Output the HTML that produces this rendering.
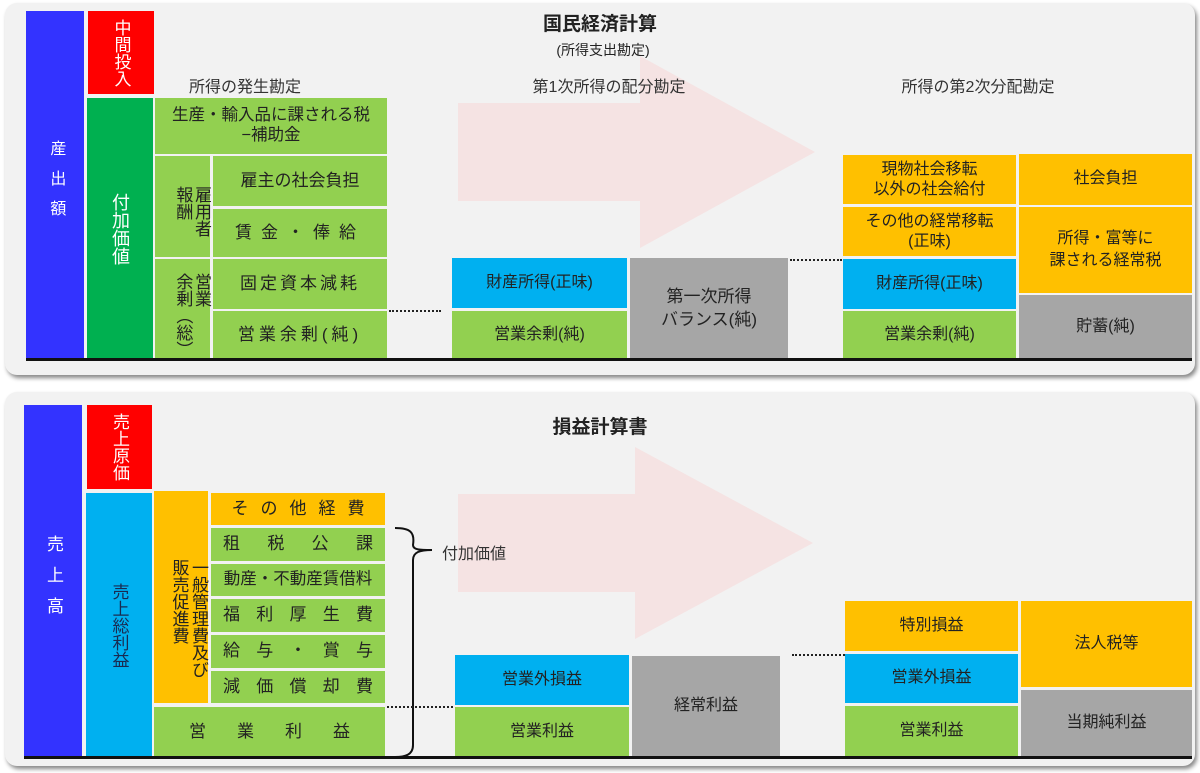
<!DOCTYPE html>
<html><head><meta charset="utf-8"><style>
*{margin:0;padding:0;box-sizing:border-box}
body{width:1200px;height:773px;background:#fff;position:relative;overflow:hidden;font-family:"Liberation Sans","Noto Sans CJK JP",sans-serif;color:#222}
.p{position:absolute;background:#f2f2f2;border-radius:12px;box-shadow:2px 3px 4px #888}
.b{position:absolute;display:flex;align-items:center;justify-content:center;text-align:center;font-size:16px;line-height:1.3}
.v{writing-mode:vertical-rl;text-orientation:upright}
.g{background:#92d050}.dg{background:#00b050;color:#fff}.bl{background:#3333ff;color:#fff}.r{background:#ff0000;color:#fff}
.c{background:#00b0f0}.o{background:#ffc000}.gr{background:#a6a6a6}
.t{position:absolute;white-space:nowrap;transform:translateX(-50%)}
.dot{position:absolute;border-top:2px dotted #222;height:0}
.base{position:absolute;height:3px;background:#111}
</style></head><body>
<div class="p" style="left:5px;top:3px;width:1190px;height:372px"></div>
<div class="p" style="left:5px;top:392px;width:1190px;height:374px"></div>
<svg style="position:absolute;left:0;top:0" width="1200" height="773">
<polygon points="458,103 640,103 640,56 815,152 640,248 640,201 458,201" fill="#f5e3e3"/>
<polygon points="458,494 635,494 635,447 813,543 635,639 635,592 458,592" fill="#f5e3e3"/>
<path d="M395,528 C410,528 415,532 413,545 C413,550 420,550 432,550 M432,550 C420,550 413,552 413,560 L413,745 C413,755 405,757 395,757" fill="none" stroke="#111" stroke-width="2"/>
</svg>
<div class="t" style="left:600px;top:9px;font-size:19px;font-weight:bold">国民経済計算</div>
<div class="t" style="left:603px;top:40px;font-size:14px">(所得支出勘定)</div>
<div class="t" style="left:245px;top:73px;font-size:16px;color:#333">所得の発生勘定</div>
<div class="t" style="left:609px;top:73px;font-size:16px;color:#333">第1次所得の配分勘定</div>
<div class="t" style="left:978px;top:73px;font-size:16px;color:#333">所得の第2次分配勘定</div>

<div class="b bl v" style="left:26px;top:11px;width:58px;height:348px;letter-spacing:14px;font-size:16px">産出額</div>
<div class="b r v" style="left:88px;top:11px;width:66px;height:83px;font-size:17px;line-height:1">中間投入</div>
<div class="b dg v" style="left:87px;top:98px;width:66px;height:261px;font-size:18px;line-height:1">付加価値</div>
<div class="b g" style="left:155px;top:98px;width:232px;height:56px;font-size:16.5px;line-height:1.2">生産・輸入品に課される税<br>−補助金</div>
<div class="b g v" style="left:155px;top:156px;width:55px;height:101px;font-size:17px;line-height:1.1;text-align:start;align-items:flex-start;padding-top:10px">雇用者<br>報酬</div>
<div class="b g" style="left:213px;top:156px;width:174px;height:50px;font-size:17px">雇主の社会負担</div>
<div class="b g" style="left:213px;top:209px;width:174px;height:48px;font-size:17px;letter-spacing:9px">賃金・俸給</div>
<div class="b g v" style="left:155px;top:259px;width:55px;height:100px;font-size:17px;line-height:1.1;text-align:start;align-items:flex-start;padding-top:12px">営業<br>余剰（総）</div>
<div class="b g" style="left:213px;top:259px;width:174px;height:50px;font-size:17px;letter-spacing:3px">固定資本減耗</div>
<div class="b g" style="left:213px;top:311px;width:174px;height:48px;font-size:17px;letter-spacing:4px">営業余剰(純)</div>
<div class="dot" style="left:389px;top:310px;width:52px"></div>
<div class="b c" style="left:452px;top:258px;width:175px;height:50px">財産所得(正味)</div>
<div class="b g" style="left:452px;top:311px;width:175px;height:48px">営業余剰(純)</div>
<div class="b gr" style="left:630px;top:258px;width:158px;height:101px;line-height:1.35;font-size:17px">第一次所得<br>バランス(純)</div>
<div class="dot" style="left:790px;top:259px;width:52px"></div>
<div class="b o" style="left:843px;top:155px;width:173px;height:49px;line-height:1.25">現物社会移転<br>以外の社会給付</div>
<div class="b o" style="left:843px;top:207px;width:173px;height:49px;line-height:1.25">その他の経常移転<br>(正味)</div>
<div class="b c" style="left:843px;top:259px;width:173px;height:50px">財産所得(正味)</div>
<div class="b g" style="left:843px;top:311px;width:173px;height:48px">営業余剰(純)</div>
<div class="b o" style="left:1019px;top:154px;width:173px;height:51px">社会負担</div>
<div class="b o" style="left:1019px;top:207px;width:173px;height:86px;line-height:1.35">所得・富等に<br>課される経常税</div>
<div class="b gr" style="left:1019px;top:295px;width:173px;height:64px">貯蓄(純)</div>
<div class="base" style="left:26px;top:358px;width:1166px"></div>

<div class="t" style="left:600px;top:412px;font-size:19px;font-weight:bold">損益計算書</div>
<div class="b bl v" style="left:24px;top:405px;width:58px;height:352px;letter-spacing:14px;font-size:17px">売上高</div>
<div class="b r v" style="left:87px;top:405px;width:65px;height:84px;font-size:17px;line-height:1">売上原価</div>
<div class="b c v" style="left:86px;top:493px;width:66px;height:264px;font-size:17px;line-height:1;color:#1a2a50">売上総利益</div>
<div class="b o v" style="left:154px;top:491px;width:54px;height:212px;font-size:17px;line-height:1.15;text-align:start;align-items:flex-start;padding-top:42px">一般管理費及び<br>販売促進費</div>
<div class="b o" style="left:211px;top:493px;width:174px;height:32px;font-size:17px;letter-spacing:12px;padding-left:12px">その他経費</div>
<div class="b g" style="left:211px;top:528px;width:174px;height:33px;font-size:17px;justify-content:space-between;padding:0 12px"><span>租</span><span>税</span><span>公</span><span>課</span></div>
<div class="b g" style="left:211px;top:564px;width:174px;height:32px;font-size:16.5px">動産・不動産賃借料</div>
<div class="b g" style="left:211px;top:599px;width:174px;height:33px;font-size:17px;justify-content:space-between;padding:0 12px"><span>福</span><span>利</span><span>厚</span><span>生</span><span>費</span></div>
<div class="b g" style="left:211px;top:635px;width:174px;height:33px;font-size:17px;justify-content:space-between;padding:0 12px"><span>給</span><span>与</span><span>・</span><span>賞</span><span>与</span></div>
<div class="b g" style="left:211px;top:671px;width:174px;height:32px;font-size:17px;justify-content:space-between;padding:0 12px"><span>減</span><span>価</span><span>償</span><span>却</span><span>費</span></div>
<div class="b g" style="left:154px;top:707px;width:231px;height:50px;font-size:17px;justify-content:space-between;padding:0 35px"><span>営</span><span>業</span><span>利</span><span>益</span></div>
<div class="t" style="left:474px;top:540px;font-size:16px;color:#333">付加価値</div>
<div class="dot" style="left:387px;top:706px;width:66px"></div>
<div class="b c" style="left:455px;top:655px;width:174px;height:50px">営業外損益</div>
<div class="b g" style="left:455px;top:707px;width:174px;height:50px">営業利益</div>
<div class="b gr" style="left:632px;top:656px;width:148px;height:101px">経常利益</div>
<div class="dot" style="left:792px;top:654px;width:53px"></div>
<div class="b o" style="left:845px;top:601px;width:173px;height:50px">特別損益</div>
<div class="b c" style="left:845px;top:654px;width:173px;height:49px">営業外損益</div>
<div class="b g" style="left:845px;top:706px;width:173px;height:51px">営業利益</div>
<div class="b o" style="left:1021px;top:601px;width:171px;height:86px">法人税等</div>
<div class="b gr" style="left:1021px;top:690px;width:171px;height:67px">当期純利益</div>
<div class="base" style="left:24px;top:756px;width:1168px"></div>
</body></html>
